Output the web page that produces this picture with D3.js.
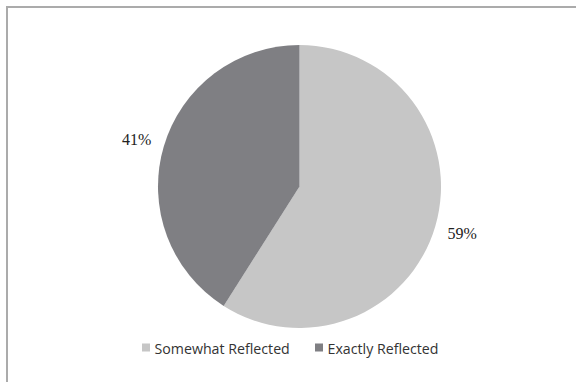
<!DOCTYPE html>
<html>
<head>
<meta charset="utf-8">
<script src="https://cdn.jsdelivr.net/npm/d3@7"></script>
<style>
  html, body { margin: 0; padding: 0; background: #fff; }
  svg { display: block; }
</style>
</head>
<body>
<svg id="chart" width="576" height="382"></svg>
<script>
// Share of responses by category
const categories = ["Somewhat Reflected", "Exactly Reflected"];
const values = [59, 41];
const labels = ["59%", "41%"];
const colors = ["#c6c6c6", "#7f7f83"];

const svg = d3.select("#chart");
const W = 576, H = 382;

// Outer frame (only left and top edges fall inside the view)
svg.append("rect")
  .attr("x", 7).attr("y", 7)
  .attr("width", W + 10).attr("height", H + 10)
  .attr("fill", "#fff")
  .attr("stroke", "#ababab")
  .attr("stroke-width", 2);

const cx = 299.5, cy = 186.5, r = 141.5;

const pie = d3.pie().sort(null).value(d => d)(values);
const arc = d3.arc().innerRadius(0).outerRadius(r);

const g = svg.append("g").attr("transform", `translate(${cx},${cy})`);
g.selectAll("path")
  .data(pie)
  .join("path")
  .attr("d", arc)
  .attr("fill", (d, i) => colors[i]);

// Percentage labels outside the slices
const labelArc = d3.arc().innerRadius(r + 28).outerRadius(r + 28);
g.selectAll("text.pct")
  .data(pie)
  .join("text")
  .attr("class", "pct")
  .attr("transform", (d, i) => {
    const [x, y] = labelArc.centroid(d);
    return `translate(${x},${y})`;
  })
  .attr("text-anchor", "middle")
  .attr("dominant-baseline", "central")
  .attr("font-family", "'Liberation Serif', 'Times New Roman', serif")
  .attr("font-size", 16)
  .attr("fill", "#222")
  .text((d, i) => labels[i]);

// Legend
const legendY = 348;
const legendX = [142, 315];
const lg = svg.append("g");
categories.forEach((c, i) => {
  lg.append("rect")
    .attr("x", legendX[i]).attr("y", legendY - 4.5)
    .attr("width", 8).attr("height", 8)
    .attr("fill", colors[i]);
  lg.append("text")
    .attr("x", legendX[i] + 12.5).attr("y", legendY)
    .attr("dominant-baseline", "central")
    .attr("font-family", "'Open Sans', sans-serif")
    .attr("font-size", 14.2)
    .attr("fill", "#333")
    .text(c);
});
</script>
</body>
</html>
